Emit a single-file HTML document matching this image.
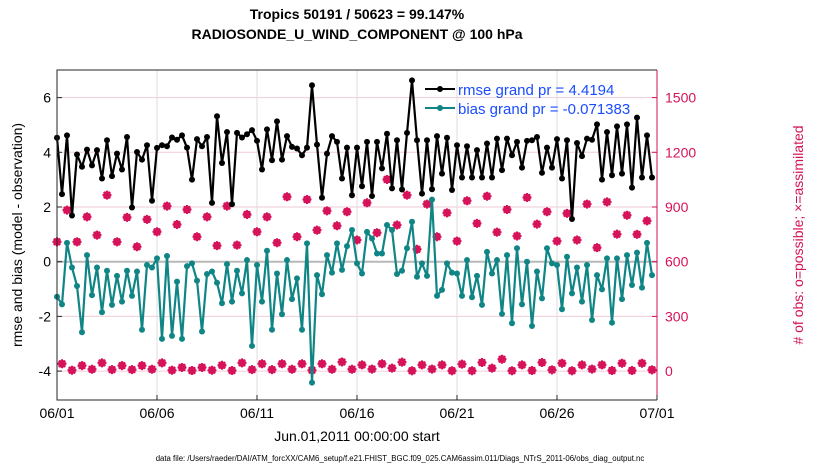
<!DOCTYPE html>
<html><head><meta charset="utf-8"><style>
html,body{margin:0;padding:0;background:#fff;width:830px;height:470px;overflow:hidden}
svg{display:block;font-family:"Liberation Sans",Arial,sans-serif}
</style></head><body>
<svg id="chart" width="830" height="470" viewBox="0 0 830 470">
<text x="357" y="19" text-anchor="middle" font-size="14" font-weight="bold">Tropics 50191 / 50623 = 99.147%</text>
<text x="357" y="39" text-anchor="middle" font-size="14" font-weight="bold">RADIOSONDE_U_WIND_COMPONENT @ 100 hPa</text>
<g id="grid"></g><g id="marks"></g><g id="axes"></g>
<text transform="translate(22,235) rotate(-90)" text-anchor="middle" font-size="14">rmse and bias (model - observation)</text>
<text transform="translate(803,235) rotate(-90)" text-anchor="middle" font-size="14" fill="#d6125a"># of obs: o=possible; ×=assimilated</text>
<text x="357" y="441" text-anchor="middle" font-size="14">Jun.01,2011 00:00:00 start</text>
<text x="400" y="461" text-anchor="middle" font-size="7.8">data file: /Users/raeder/DAI/ATM_forcXX/CAM6_setup/f.e21.FHIST_BGC.f09_025.CAM6assim.011/Diags_NTrS_2011-06/obs_diag_output.nc</text>
<g>
<line x1="425" y1="89" x2="455" y2="89" stroke="#000" stroke-width="2"/>
<circle cx="440" cy="89" r="3" fill="#000"/>
<text x="458" y="95" font-size="15" fill="#1a4cff">rmse grand pr = 4.4194</text>
<line x1="425" y1="108" x2="455" y2="108" stroke="#0f8585" stroke-width="2"/>
<circle cx="440" cy="108" r="3" fill="#0f8585"/>
<text x="458" y="114" font-size="15" fill="#1a4cff">bias grand pr = -0.071383</text>
</g>
</svg>
<script>
const xTickLabels=["06/01","06/06","06/11","06/16","06/21","06/26","07/01"];
const xTickDays=[0,5,10,15,20,25,30];
const yTicks=[-4,-2,0,2,4,6];
const y2Ticks=[0,300,600,900,1200,1500];
const rmseY=[233,402,225,466,283,320,268,316,270,355,240,348,280,328,230,442,275,298,255,422,263,255,258,232,238,225,262,358,237,258,230,428,168,308,215,432,218,232,222,210,242,328,207,300,183,298,228,260,265,285,262,75,253,413,280,228,245,355,262,405,262,378,245,408,245,325,220,385,240,388,218,60,240,400,240,387,228,340,233,390,255,352,258,352,270,352,250,352,235,330,235,285,245,322,242,240,230,338,262,322,237,355,240,477,248,288,235,238,192,358,215,345,198,340,192,382,172,352,225,352];
const biasY=[710,733,548,622,678,817,585,705,622,757,632,735,648,725,632,708,635,810,615,622,595,837,588,828,665,837,618,610,662,815,642,635,668,730,612,725,632,700,600,858,615,725,572,810,640,763,600,718,655,810,550,968,645,703,585,638,550,630,558,510,610,640,515,535,580,580,495,510,642,632,565,485,650,610,648,418,708,690,610,638,640,708,600,712,648,735,575,640,600,762,585,790,565,733,605,798,635,715,565,610,615,748,590,700,622,725,615,780,645,688,595,788,595,718,585,675,578,683,548,645];
const rmse=rmseY.map(y=>+((605-y)/82.2).toFixed(2));
const bias=biasY.map(y=>+((605-y)/82.2).toFixed(2));
const obsMain=[709,883,709,846,746,965,709,843,682,832,764,905,804,886,737,846,688,905,691,859,764,846,704,956,737,941,773,879,797,874,719,923,759,1051,801,965,668,916,737,868,713,934,810,959,762,886,741,952,806,874,713,865,719,916,677,928,751,855,750,824];
const obsSide=[40,5,30,10,45,8,30,8,30,10,45,5,20,3,20,5,32,3,45,8,40,8,40,10,40,5,40,10,50,10,34,11,40,16,49,2,34,11,34,2,38,2,47,16,65,2,34,3,47,7,43,2,34,11,34,3,43,3,43,7];
const X0=57,X1=657,Y0=70,Y1=400;
const xs=d=>X0+(d/30)*(X1-X0);
const ys=v=>261.7-v*27.35;
const ys2=c=>ys(c/150-4);
const NS="http://www.w3.org/2000/svg";
function mk(t,a,p){const e=document.createElementNS(NS,t);for(const k in a)e.setAttribute(k,a[k]);p.appendChild(e);return e;}
const grid=document.getElementById('grid'),marks=document.getElementById('marks'),axes=document.getElementById('axes');
mk('rect',{x:X0,y:Y0,width:X1-X0,height:Y1-Y0,fill:'#fff'},grid);
yTicks.forEach(v=>{const l=mk('line',{x1:X0,x2:X1,y1:ys(v),y2:ys(v),stroke:'#f2cbd8','stroke-width':1},grid);

});
xTickDays.forEach(d=>{const l=mk('line',{x1:xs(d),x2:xs(d),y1:Y0,y2:Y1,stroke:'#dcdcdc','stroke-width':1},grid);

});
const z=mk('line',{x1:X0,x2:X1,y1:ys(0),y2:ys(0),stroke:'#b8b8b8','stroke-width':2},grid);


function obsMark(d,c,name){const g=mk('g',{},marks);


const x=xs(d),y=ys2(c);
mk('circle',{cx:x,cy:y,r:3.2,fill:'none',stroke:'#d6125a','stroke-width':1.5},g);
mk('path',{d:`M${x-4.5} ${y}H${x+4.5}M${x} ${y-4.5}V${y+4.5}M${x-3.2} ${y-3.2}L${x+3.2} ${y+3.2}M${x-3.2} ${y+3.2}L${x+3.2} ${y-3.2}`,stroke:'#d6125a','stroke-width':2},g);}
obsMain.forEach((c,i)=>obsMark(i*0.5,c,'obs-count-main'));
obsSide.forEach((c,i)=>obsMark(i*0.5+0.25,c,'obs-count-offhour'));
function series(vals,col,name){
const p=mk('polyline',{points:vals.map((v,i)=>xs(i*0.25)+','+ys(v)).join(' '),fill:'none',stroke:col,'stroke-width':2.2,'stroke-linejoin':'round'},marks);


vals.forEach((v,i)=>{const c=mk('circle',{cx:xs(i*0.25),cy:ys(v),r:3,fill:col},marks);

});}
series(bias,'#0f8585','bias');
series(rmse,'#000','rmse');
const fr=mk('path',{d:`M${X1} ${Y0}H${X0}V${Y1}H${X1}`,fill:'none',stroke:'#262626','stroke-width':1},axes);


const ra=mk('line',{x1:X1,x2:X1,y1:Y0,y2:Y1,stroke:'#d6125a','stroke-width':1},axes);


yTicks.forEach(v=>{mk('line',{x1:X0,x2:X0+5,y1:ys(v),y2:ys(v),stroke:'#262626'},axes);
const t=mk('text',{x:X0-6,y:ys(v)+5,'text-anchor':'end','font-size':14},axes);t.textContent=v;

});
y2Ticks.forEach(v=>{mk('line',{x1:X1-5,x2:X1,y1:ys2(v),y2:ys2(v),stroke:'#d6125a'},axes);
const t=mk('text',{x:X1+8,y:ys2(v)+5,'font-size':14,fill:'#d6125a'},axes);t.textContent=v;

});
xTickDays.forEach((d,i)=>{mk('line',{x1:xs(d),x2:xs(d),y1:Y1,y2:Y1-5,stroke:'#262626'},axes);
const t=mk('text',{x:xs(d),y:418,'text-anchor':'middle','font-size':14},axes);t.textContent=xTickLabels[i];

});
</script>
</body></html>
